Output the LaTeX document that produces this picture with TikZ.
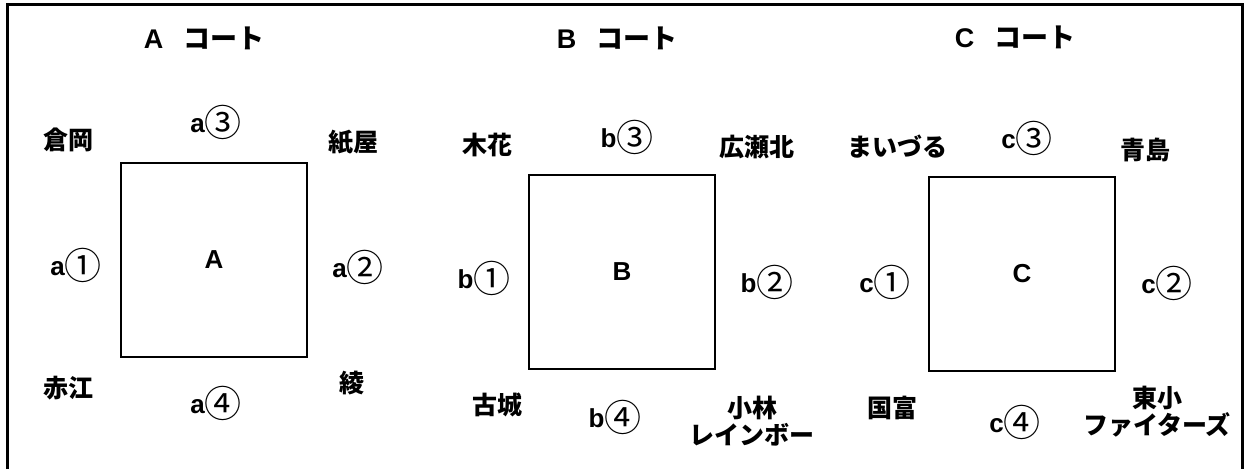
\documentclass[tikz,border=0pt]{standalone}
\usepackage{fontspec}
\setmainfont{Liberation Sans}
\newfontfamily\jp{Noto Sans CJK JP}
\newfontfamily\ring{Noto Sans CJK JP}
\newcommand{\seat}[2]{#1\raisebox{-4pt}{\ring\mdseries\fontsize{37}{37}\selectfont #2}}

\begin{document}
\begin{tikzpicture}[
    x=1pt, y=-1pt,
    court/.style={draw=black, line width=2pt, fill=white,
        minimum width=186pt, minimum height=194pt, inner sep=0pt,
        font=\bfseries\fontsize{26}{26}\selectfont},
    title/.style={font=\bfseries\fontsize{27}{27}\selectfont},
    team/.style={font=\jp\bfseries\fontsize{25}{27}\selectfont, align=center},
    slot/.style={font=\bfseries\fontsize{26}{26}\selectfont}
]
    \useasboundingbox (0,0) rectangle (1249,469);
    \draw[line width=3pt] (7.5,469) -- (7.5,4.5) -- (1242.5,4.5) -- (1242.5,469);

    % A court
    \node[title] (ta) at (204,38) {A\hspace{20pt}{\jp コート}};
    \node[court] (ca) at (214,260) {A};
    \node[team] (kuraoka) at (68,140) {倉岡};
    \node[team] (kamiya) at (353,142) {紙屋};
    \node[team] (akae) at (68,388) {赤江};
    \node[team] (aya) at (352,383) {綾};
    \node[slot] (a3) at (216,122) {\seat{a}{③}};
    \node[slot] (a1) at (76,265) {\seat{a}{①}};
    \node[slot] (a2) at (358,267) {\seat{a}{②}};
    \node[slot] (a4) at (216,403) {\seat{a}{④}};

    % B court
    \node[title] (tb) at (617,38) {B\hspace{20pt}{\jp コート}};
    \node[court] (cb) at (622,272) {B};
    \node[team] (kibana) at (487,145) {木花};
    \node[team] (hirosekita) at (757,147) {広瀬北};
    \node[team] (furujo) at (497,405) {古城};
    \node[team] (kobayashi) at (752,421) {小林\\レインボー};
    \node[slot] (b3) at (627,137) {\seat{b}{③}};
    \node[slot] (b1) at (484,278) {\seat{b}{①}};
    \node[slot] (b2) at (767,282) {\seat{b}{②}};
    \node[slot] (b4) at (615,417) {\seat{b}{④}};

    % C court
    \node[title] (tc) at (1015,37) {C\hspace{20pt}{\jp コート}};
    \node[court] (cc) at (1022,274) {C};
    \node[team] (maizuru) at (897,147) {まいづる};
    \node[team] (aoshima) at (1145,150) {青島};
    \node[team] (kunitomi) at (892,408) {国富};
    \node[team] (higashi) at (1157,412) {東小\\ファイターズ};
    \node[slot] (c3) at (1027,138) {\seat{c}{③}};
    \node[slot] (c1) at (885,282) {\seat{c}{①}};
    \node[slot] (c2) at (1167,283) {\seat{c}{②}};
    \node[slot] (c4) at (1015,422) {\seat{c}{④}};
\end{tikzpicture}
\end{document}
